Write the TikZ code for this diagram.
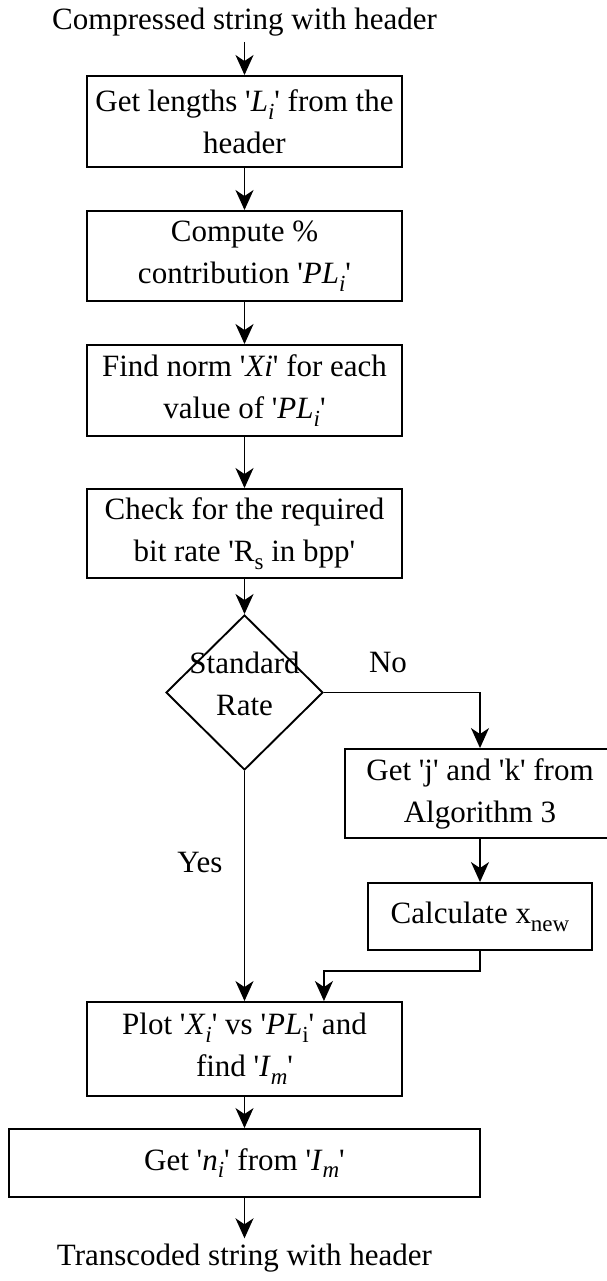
\documentclass[tikz,border=0pt]{standalone}
\usepackage{fontspec}
\setmainfont{Liberation Serif}
\usetikzlibrary{shapes.geometric,arrows.meta}
\newcommand{\dn}[1]{\raisebox{-0.25em}{\fontsize{23}{23}\selectfont #1}}
\newcommand{\sq}{\textquotesingle}
\begin{document}
\begin{tikzpicture}[x=1pt,y=-1pt,
  every node/.style={font=\fontsize{31}{42}\selectfont},
  box/.style={draw, line width=1.9pt, inner sep=0pt, align=center, rectangle},
  lbl/.style={inner sep=5pt},
  arr/.style={-{Stealth[length=20pt,width=18pt,inset=6pt]}, line width=1.9pt}]
\useasboundingbox (0,0) rectangle (607,1281);

\node[lbl, anchor=base] (top) at (244.5,30) {Compressed string with header};
\node[box, minimum width=315, minimum height=91] (b1) at (244.5,121.5)
  {Get lengths \sq\textit{L}\dn{\textit{i}}\sq{} from the\\header};
\node[box, minimum width=315, minimum height=90] (b2) at (244.5,256)
  {Compute \%\\contribution \sq\textit{PL}\dn{\textit{i}}\sq};
\node[box, minimum width=315, minimum height=91] (b3) at (244.5,390.5)
  {Find norm \sq\textit{Xi}\sq{} for each\\value of \sq\textit{PL}\dn{\textit{i}}\sq};
\node[box, minimum width=315, minimum height=89] (b4) at (244.5,533.5)
  {Check for the required\\bit rate \sq R\dn{s} in bpp\sq};
\node[diamond, draw, line width=1.9pt, inner sep=0pt, minimum width=157, minimum height=155] (dec) at (244.5,692.5)
  {\smash{\makebox[0pt]{\begin{tabular}{@{}c@{}}Standard\\Rate\end{tabular}}}};
\node[box, minimum width=270, minimum height=89] (jk) at (480,793.5)
  {Get \sq j\sq{} and \sq k\sq{} from\\Algorithm 3};
\node[box, minimum width=224, minimum height=67] (calc) at (480,916.5)
  {Calculate x\dn{new}};
\node[box, minimum width=315, minimum height=94] (plot) at (244.5,1049)
  {Plot \sq\textit{X}\dn{\textit{i}}\sq{} vs \sq\textit{PL}\dn{i}\sq{} and\\find \sq\textit{I}\dn{\textit{m}}\sq};
\node[box, minimum width=471, minimum height=68] (getn) at (244.5,1163)
  {Get \sq\textit{n}\dn{\textit{i}}\sq{} from \sq\textit{I}\dn{\textit{m}}\sq};
\node[lbl, anchor=base] (bot) at (244.5,1265) {Transcoded string with header};

\node (no) at (388,662) {No};
\node (yes) at (200,862) {Yes};

\coordinate (j1) at (480,971);

\draw[arr] (top.south) -- (b1.north);
\draw[arr] (b1) -- (b2);
\draw[arr] (b2) -- (b3);
\draw[arr] (b3) -- (b4);
\draw[arr] (b4) -- (dec);
\draw[arr] (dec.east) -| (jk.north);
\draw[arr] (jk) -- (calc);
\draw[arr] (calc.south) -- (j1) -| (plot.north -| dec.east);
\draw[arr] (dec.south) -- (plot.north);
\draw[arr] (plot) -- (getn);
\draw[arr] (getn.south) -- (bot.north);
\end{tikzpicture}
\end{document}
